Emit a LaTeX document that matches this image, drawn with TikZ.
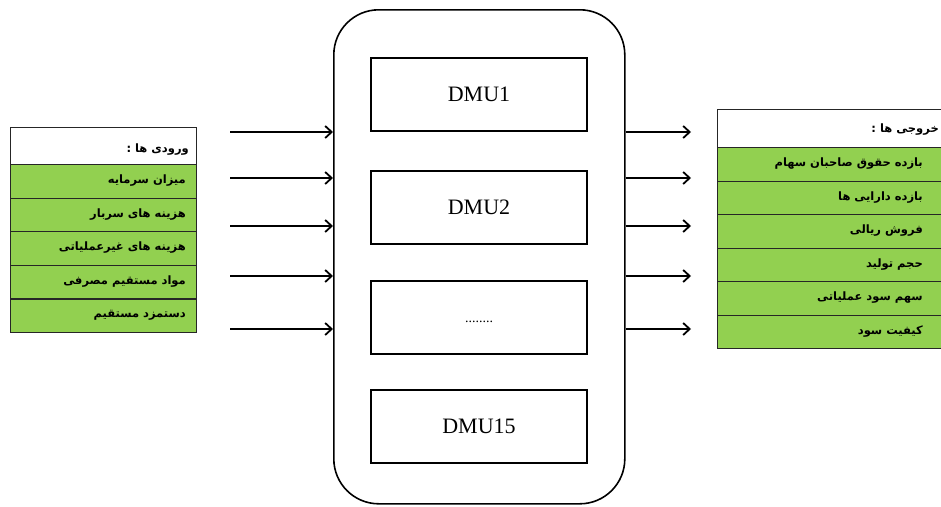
\documentclass[tikz,border=0pt]{standalone}
\usepackage{fontspec}
\setmainfont{Liberation Serif}
\newfontfamily\fa[Script=Arabic]{DejaVu Sans}
\TeXXeTstate=1
\usetikzlibrary{arrows.meta,calc}
\definecolor{tgreen}{RGB}{146,208,80}
\begin{document}
\begin{tikzpicture}[x=1pt,y=-1pt,
  dmubox/.style={draw,line width=2pt,minimum width=216pt,minimum height=73pt,inner sep=0pt,font=\fontsize{22}{24}\selectfont},
  cell/.style={draw=black!85,line width=1.2pt,inner sep=0pt,anchor=north west},
  hdr/.style={cell,fill=white},
  grn/.style={cell,fill=tgreen},
  fatext/.style={font=\fa\bfseries\fontsize{11.5}{13}\selectfont,anchor=east,inner sep=0pt},
  arr/.style={line width=1.8pt,-{Straight Barb[length=6.5pt,width=12pt]}}
]
\useasboundingbox (0,0) rectangle (941,506);
\clip (0,0) rectangle (941,506);

% central container
\node[draw,rounded corners=45pt,line width=1.6pt,minimum width=291pt,minimum height=494pt,inner sep=0pt,anchor=north west] (dmus) at (333,9) {};
\node[dmubox] (d1) at (479,94.5) {DMU1};
\node[dmubox] (d2) at (479,207.5) {DMU2};
\node[dmubox] (d3) at (479,317.5) {};
\node[dmubox] (d4) at (479,426) {DMU15};
\node[anchor=base,inner sep=0pt,font=\fontsize{14}{16}\selectfont] (dots) at (479,322) {........};

% left table (inputs)
\node[hdr,minimum width=186pt,minimum height=37pt] (lh) at (10,127) {};
\node[fatext] (lht) at (189,150) {\fa\bfseries\beginR ورودی ها :\endR};
\foreach \i/\t in {1/میزان سرمایه,2/هزینه های سربار,3/هزینه های غیرعملیاتی,4/مواد مستقیم مصرفی,5/دستمزد مستقیم}{
  \node[grn,minimum width=186pt,minimum height=33.6pt] (lr\i) at (10,{164+(\i-1)*33.6}) {};
  \node[fatext] (lt\i) at (186,{164+(\i-0.5)*33.6}) {\fa\bfseries\beginR \t\endR};
}

% right table (outputs)
\node[hdr,minimum width=240pt,minimum height=38pt] (rh) at (717,109) {};
\node[fatext] (rht) at (939,130) {\fa\bfseries\beginR خروجی ها :\endR};
\foreach \i/\t in {1/بازده حقوق صاحبان سهام,2/بازده دارایی ها,3/فروش ریالی,4/حجم تولید,5/سهم سود عملیاتی,6/کیفیت سود}{
  \node[grn,minimum width=240pt,minimum height=33.5pt] (rr\i) at (717,{147+(\i-1)*33.5}) {};
  \node[fatext] (rt\i) at (923,{147+(\i-0.5)*33.5}) {\fa\bfseries\beginR \t\endR};
}

% arrows
\foreach \i/\y in {1/132,2/178,3/226,4/276,5/329}{
  \coordinate (in\i) at (230,\y);
  \coordinate (out\i) at (691,\y);
  \draw[arr] (in\i) -- (in\i -| dmus.west);
  \draw[arr] (out\i -| dmus.east) -- (out\i);
}
\end{tikzpicture}
\end{document}
